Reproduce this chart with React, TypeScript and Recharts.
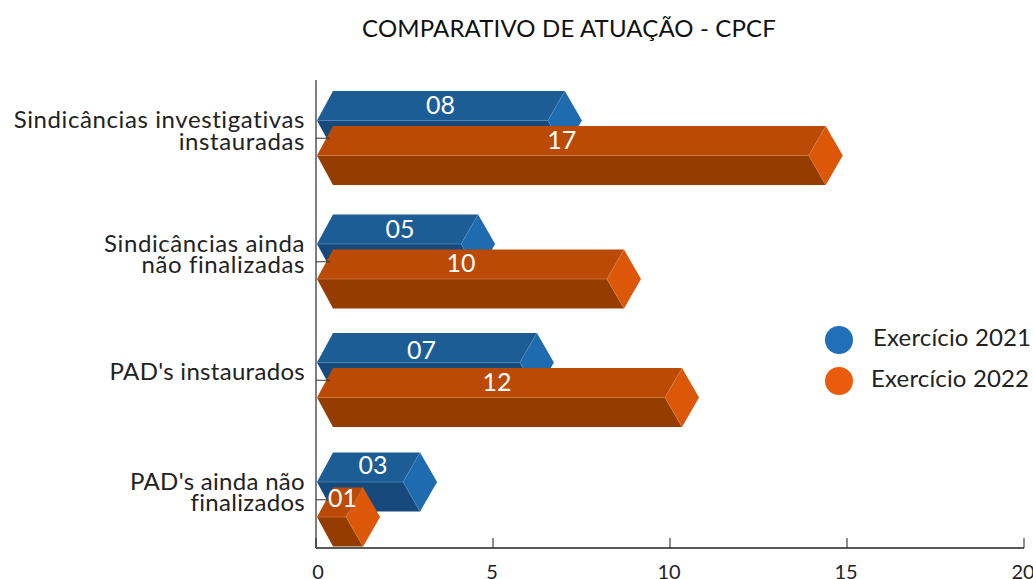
import React from 'react';
import { BarChart, Bar, XAxis, YAxis, LabelList } from 'recharts';

const categories = [
  ['Sindicâncias investigativas', 'instauradas'],
  ['Sindicâncias ainda', 'não finalizadas'],
  ["PAD's instaurados"],
  ["PAD's ainda não", 'finalizados'],
];
const lengths2021 = [7.03, 4.58, 6.24, 2.94];
const lengths2022 = [14.4, 8.7, 10.34, 1.33];
const labels2021 = ['08', '05', '07', '03'];
const labels2022 = ['17', '10', '12', '01'];
const xTicks = [0, 5, 10, 15, 20];

// the groups and labels in the source are placed by hand, not evenly
const groupNudge = [0, 3, 1, 0];
const labelNudge2021 = [0, 3, -5, 5];
const labelNudge2022 = [-9, -9, -2, 3];
const labelLift2021 = [0, 1, 3, -1];
const labelLift2022 = [0, 0, 0, -3];

const FONT = 'Lato, sans-serif';
const DEPTH = 17;

const blue = { top: '#1c5d96', low: '#174a7c', end: '#1e6bb0', edge: '#4f86b8' };
const orange = { top: '#ba4a05', low: '#953c00', end: '#dc5808', edge: '#d27a45' };

const data = categories.map((c, i) => ({
  name: c.join(' '),
  a: lengths2021[i],
  b: lengths2022[i],
  labelA: labels2021[i],
  labelB: labels2022[i],
}));

// the prism bar: upper face, lower face and the hexagon side at the end
const Prism = (props: any) => {
  const { x, y: rawY, width: w, height: h, colors, index } = props;
  const y = rawY + groupNudge[index];
  const mid = y + h / 2;
  const bottom = y + h;
  return (
    <g>
      <polygon points={`${x + 1},${mid} ${x + DEPTH},${bottom} ${x + w},${bottom} ${x + w - DEPTH},${mid}`} fill={colors.low} />
      <polygon points={`${x + 1},${mid} ${x + DEPTH},${y} ${x + w},${y} ${x + w - DEPTH},${mid}`} fill={colors.top} />
      <polygon points={`${x + w - DEPTH},${mid} ${x + w},${y} ${x + w + DEPTH},${mid} ${x + w},${bottom}`} fill={colors.end} />
      <path d={`M${x + 1},${mid} L${x + w - DEPTH},${mid} L${x + w},${y} M${x + w - DEPTH},${mid} L${x + w},${bottom}`} stroke={colors.edge} strokeWidth={0.7} fill="none" />
    </g>
  );
};

const CategoryTick = (props: any) => {
  const { x, y: rawY, index } = props;
  const y = rawY + groupNudge[index];
  const lines = categories[index];
  const first = lines.length === 1 ? 0 : -10;
  const spacing = lines[0].startsWith('PAD') ? 0.3 : 0.6;
  return (
    <g>
      <line x1={x + 8} x2={x + 22} y1={y} y2={y} stroke="#333" strokeWidth={1} />
      <text x={x - 3} y={y} textAnchor="end" fill="#222" fontFamily={FONT} fontSize={24} letterSpacing={spacing}>
        {lines.map((l: string, i: number) => (
          <tspan key={l} x={x - 3} y={y + first + i * 21.5}>{l}</tspan>
        ))}
      </text>
    </g>
  );
};

const ValueTick = (props: any) => {
  const { x, y, payload } = props;
  return (
    <g>
      <line x1={x} x2={x} y1={y - 18} y2={y - 8} stroke="#222" strokeWidth={1} />
      <text x={x + (payload.value === 0 ? 2 : -1)} y={y + 23} textAnchor="middle" fill="#222" fontFamily={FONT} fontSize={20}>
        {payload.value}
      </text>
    </g>
  );
};

const BarLabel = (nudges: number[], lifts: number[]) => (props: any) => {
  const { x, y, width, height, value, index } = props;
  return (
    <text
      x={x + width / 2 + nudges[index]}
      y={y + height / 4 + groupNudge[index] + lifts[index]}
      dy={8}
      textAnchor="middle"
      fill="#fff"
      fontFamily={FONT}
      fontSize={25}
    >
      {value}
    </text>
  );
};

const legendItems = [
  { label: 'Exercício 2021', color: '#1f70b8', gap: 20 },
  { label: 'Exercício 2022', color: '#ea5b0c', gap: 18 },
];

export default function App() {
  return (
    <div style={{ position: 'absolute', left: 0, top: 0, width: 1033, height: 579, overflow: 'hidden', background: '#fff' }}>
      <div style={{ position: 'absolute', left: 0, top: 13, width: 1138, textAlign: 'center', fontFamily: FONT, fontSize: 24, letterSpacing: 0.14, color: '#111' }}>
        COMPARATIVO DE ATUAÇÃO - CPCF
      </div>
      <BarChart
        width={1033}
        height={579}
        layout="vertical"
        data={data}
        barSize={59}
        barGap={-24}
        margin={{ top: 80, right: 9, bottom: 0, left: 0 }}
      >
        <XAxis
          type="number"
          domain={[0, 20]}
          ticks={xTicks}
          height={31}
          stroke="#222"
          strokeWidth={1.5}
          tickLine={false}
          tick={<ValueTick />}
          interval={0}
        />
        <YAxis
          type="category"
          dataKey="name"
          width={316}
          stroke="#555"
          strokeWidth={1.5}
          tickLine={false}
          padding={{ top: -2, bottom: -12 }}
          tick={<CategoryTick />}
          interval={0}
        />
        <Bar dataKey="a" isAnimationActive={false} shape={<Prism colors={blue} />}>
          <LabelList dataKey="labelA" content={BarLabel(labelNudge2021, labelLift2021)} />
        </Bar>
        <Bar dataKey="b" isAnimationActive={false} shape={<Prism colors={orange} />}>
          <LabelList dataKey="labelB" content={BarLabel(labelNudge2022, labelLift2022)} />
        </Bar>
      </BarChart>
      <div style={{ position: 'absolute', left: 825, top: 319, width: 208, fontFamily: FONT, fontSize: 24, letterSpacing: 0.15, color: '#222' }}>
        {legendItems.map((it) => (
          <div key={it.label} style={{ display: 'flex', alignItems: 'center', height: 41 }}>
            <span style={{ width: 28, height: 28, borderRadius: 14, background: it.color, flex: 'none' }} />
            <span style={{ marginLeft: it.gap, position: 'relative', top: -3, whiteSpace: 'nowrap' }}>{it.label}</span>
          </div>
        ))}
      </div>
    </div>
  );
}
